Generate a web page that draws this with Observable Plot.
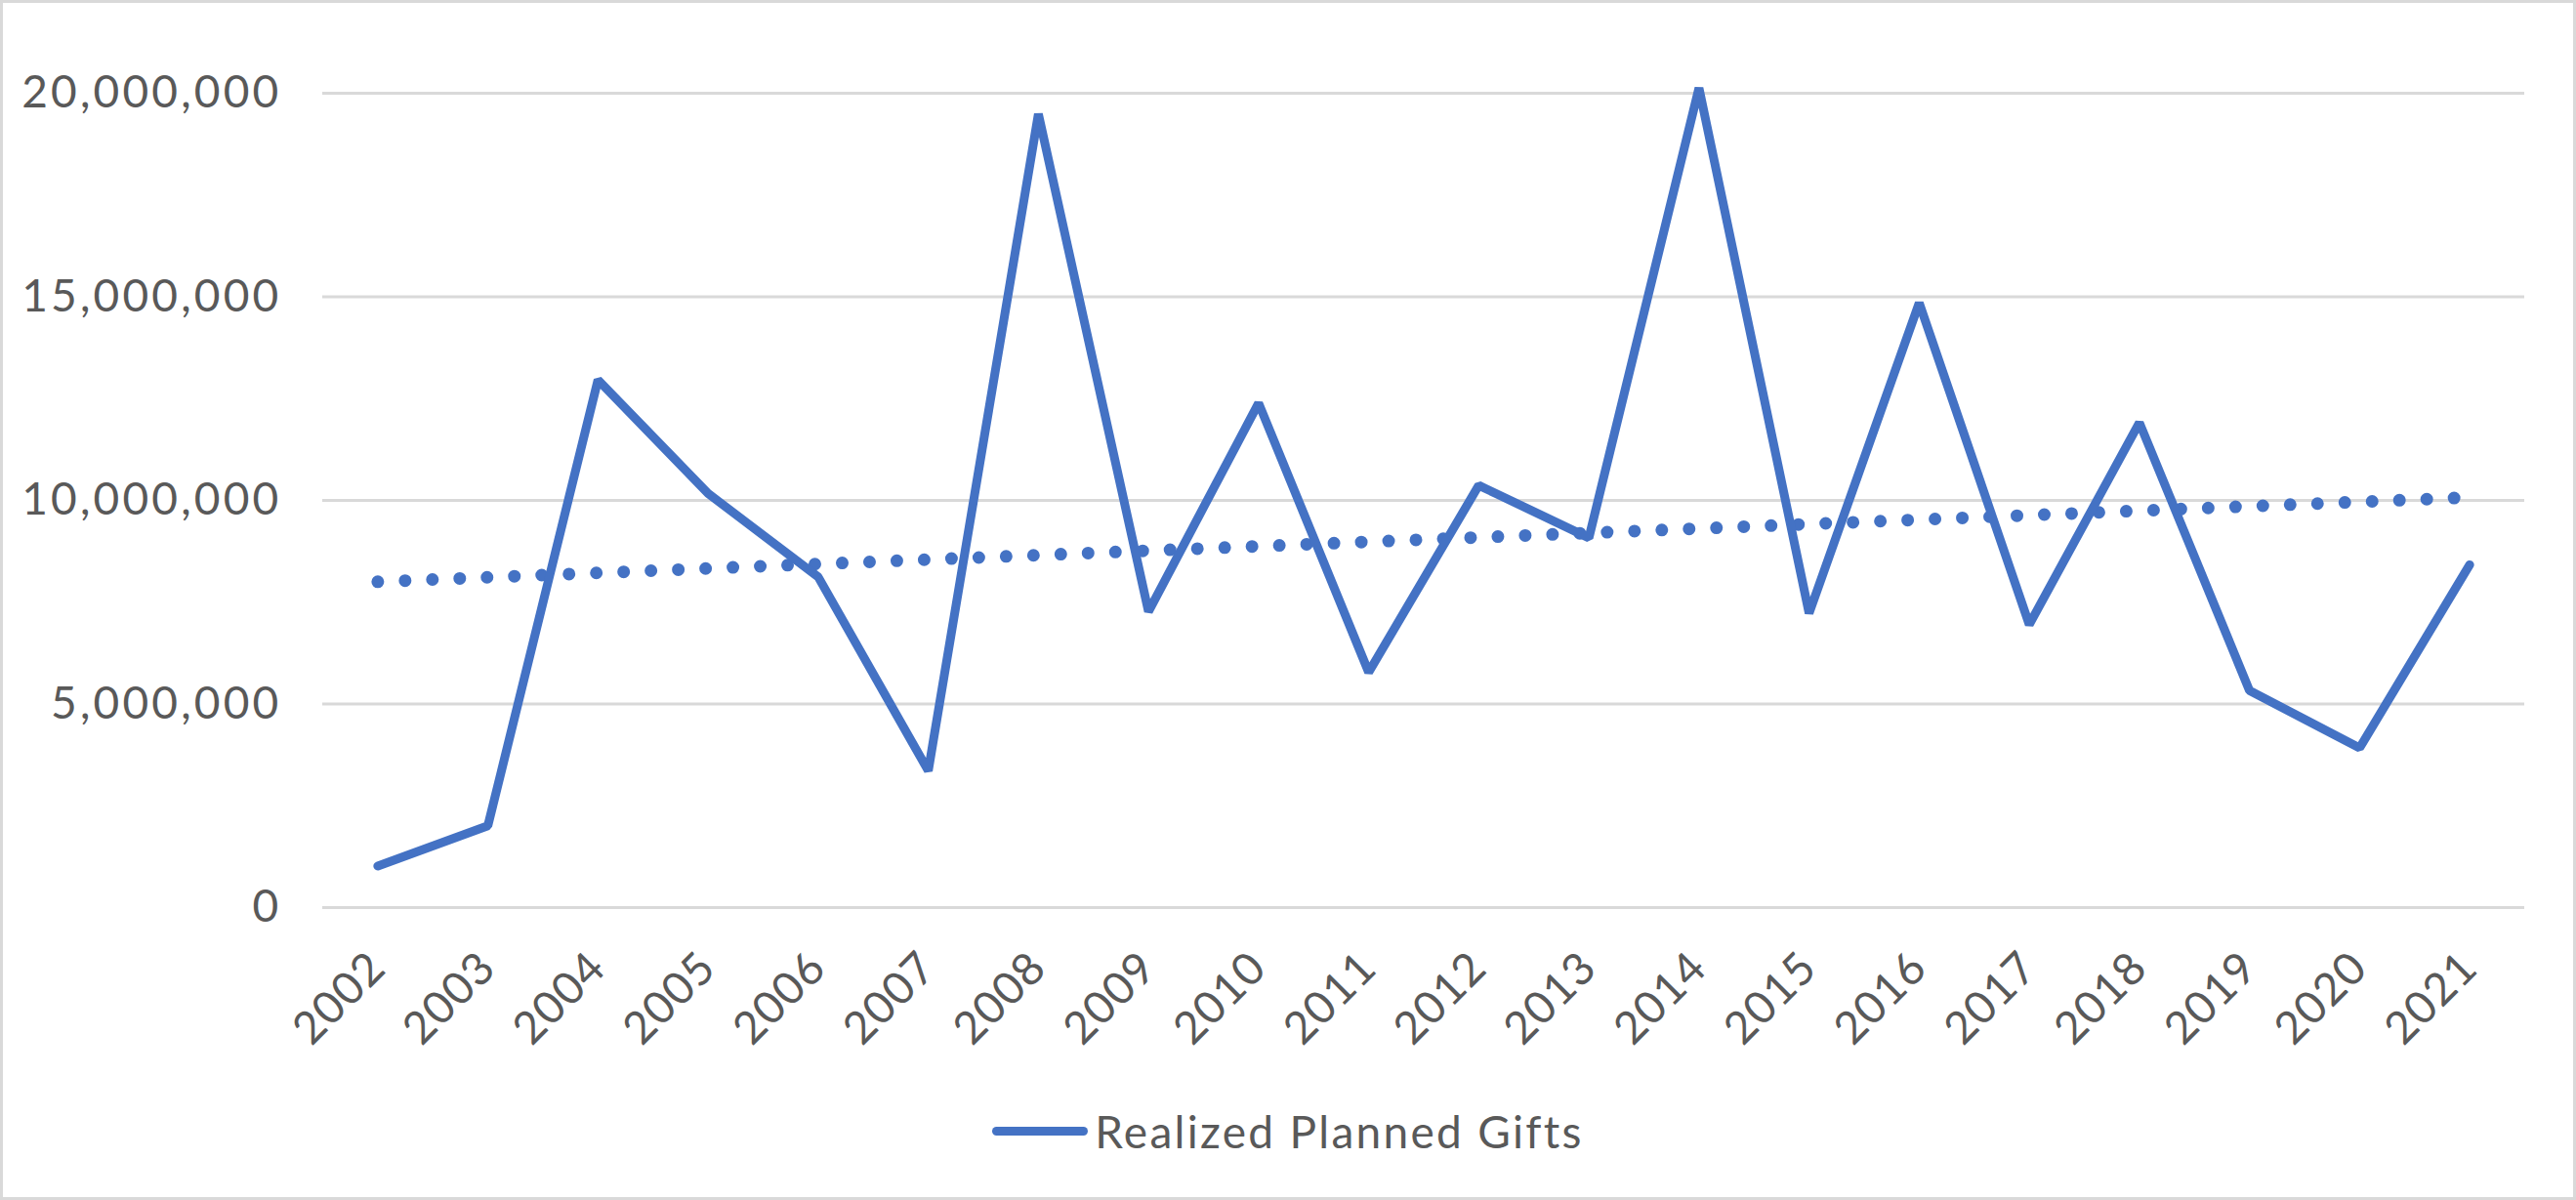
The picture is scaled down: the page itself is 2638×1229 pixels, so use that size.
<!DOCTYPE html>
<html>
<head>
<meta charset="utf-8">
<script src="https://cdn.jsdelivr.net/npm/d3@7"></script>
<script src="https://cdn.jsdelivr.net/npm/@observablehq/plot@0.6"></script>
<style>
  html, body { margin: 0; padding: 0; background: #fff; }
  #wrap { position: relative; width: 2638px; height: 1229px; overflow: hidden; background: #fff; }
  #frame { position: absolute; left: 0; top: 0; width: 2638px; height: 1229px; box-sizing: border-box; border: 3px solid #d9d9d9; pointer-events: none; }
  #chart { position: absolute; left: 0; top: 0; }
  #chart g[aria-label="y-axis tick label"] text { letter-spacing: 3.2px; }
  #chart g[aria-label="x-axis tick label"] text { letter-spacing: 1px; }
  #legend { position: absolute; left: 0; top: 1128px; width: 2638px; height: 60px; display: flex; justify-content: center; align-items: center; font-family: Lato, "Open Sans", sans-serif; font-size: 46px; letter-spacing: 2.3px; color: #595959; }
  #legend .sw { width: 98px; height: 9px; border-radius: 4.5px; background: #4472c4; margin-right: 7px; }
</style>
</head>
<body>
<div id="wrap">
  <div id="chart"></div>
  <div id="legend"><div class="sw"></div><span>Realized Planned Gifts</span></div>
  <div id="frame"></div>
</div>
<script>
const years = [2002, 2003, 2004, 2005, 2006, 2007, 2008, 2009, 2010, 2011, 2012, 2013, 2014, 2015, 2016, 2017, 2018, 2019, 2020, 2021];
const gifts = [1020000, 2010000, 12960000, 10170000, 8120000, 3360000, 19490000, 7270000, 12390000, 5780000, 10370000, 9080000, 20130000, 7230000, 14850000, 6950000, 11910000, 5330000, 3920000, 8420000];
const yTicks = [0, 5000000, 10000000, 15000000, 20000000];
const seriesName = "Realized Planned Gifts";

const data = years.map((y, i) => ({year: y, value: gifts[i], series: seriesName}));
const blue = "#4472c4";

const chart = Plot.plot({
  width: 2638,
  height: 1090,
  marginLeft: 330,
  marginRight: 53,
  marginTop: 95,
  marginBottom: 161,
  style: {fontFamily: "Lato, 'Open Sans', sans-serif", fontSize: "46px", color: "#595959", background: "transparent"},
  x: {type: "linear", domain: [years[0] - 0.5, years[years.length - 1] + 0.5]},
  y: {domain: [0, 20000000]},
  marks: [
    Plot.gridY(yTicks, {stroke: "#d9d9d9", strokeOpacity: 1, strokeWidth: 3}),
    Plot.axisY(yTicks, {tickSize: 0, tickPadding: 42, tickFormat: d3.format(","), label: null}),
    Plot.axisX(years, {tickSize: 0, tickPadding: 54, tickRotate: -45, textAnchor: "end", lineAnchor: "middle", tickFormat: d => String(d), label: null}),
    Plot.linearRegressionY(data, {x: "year", y: "value", stroke: blue, strokeWidth: 13, ci: 0, strokeDasharray: "0,28", strokeLinecap: "round"}),
    Plot.line(data, {x: "year", y: "value", stroke: blue, strokeWidth: 9, strokeLinecap: "round", strokeLinejoin: "miter"})
  ]
});
document.getElementById("chart").appendChild(chart);
</script>
</body>
</html>
